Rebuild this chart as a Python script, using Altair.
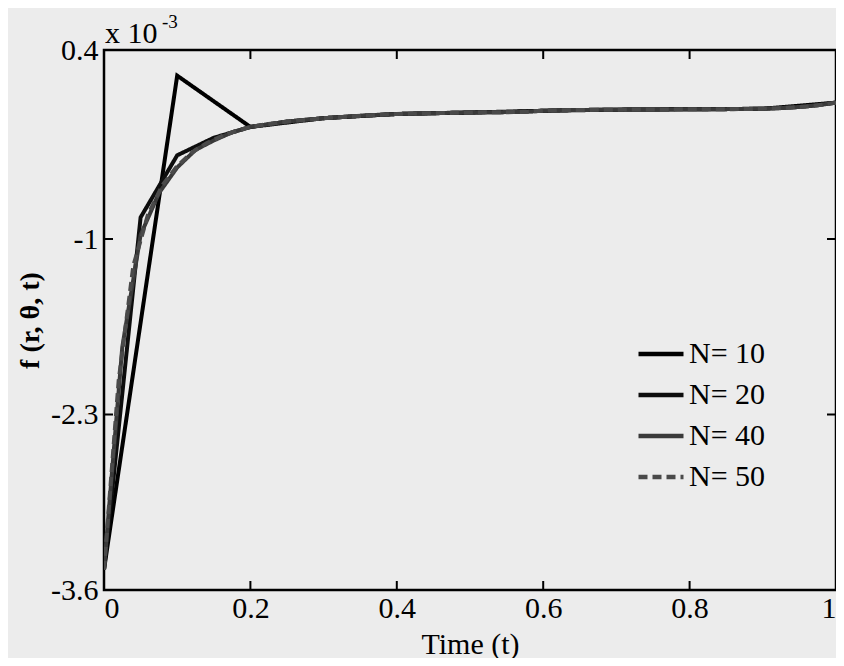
import altair as alt
import pandas as pd

# ---------------- data (values x 1e-3) ----------------
t10 = [0, 0.1, 0.2, 0.3, 0.4, 0.5, 0.6, 0.7, 0.8, 0.9, 1.0]
n10 = [-3.45, 0.21, -0.17, -0.105, -0.074, -0.063, -0.050, -0.042, -0.039, -0.035, 0.010]

t20 = [0, 0.05, 0.10, 0.15, 0.20, 0.25, 0.30, 0.35, 0.40, 0.45, 0.50,
       0.55, 0.60, 0.65, 0.70, 0.75, 0.80, 0.85, 0.90, 0.95, 1.0]
n20 = [-3.45, -0.84, -0.38, -0.25, -0.17, -0.13, -0.105, -0.088, -0.074, -0.068, -0.063,
       -0.060, -0.050, -0.044, -0.042, -0.040, -0.039, -0.038, -0.035, -0.022, 0.010]

t40 = [0, .025, .05, .075, .1, .125, .15, .175, .2, .225, .25, .275, .3, .325, .35, .375,
       .4, .425, .45, .475, .5, .525, .55, .575, .6, .625, .65, .675, .7, .725, .75, .775,
       .8, .825, .85, .875, .9, .925, .95, .975, 1.0]
n40 = [-3.45, -1.80, -0.97, -0.66, -0.47, -0.34, -0.27, -0.21, -0.17, -0.15, -0.13, -0.117,
       -0.105, -0.096, -0.088, -0.080, -0.074, -0.071, -0.068, -0.065, -0.063, -0.061, -0.060,
       -0.058, -0.050, -0.046, -0.044, -0.043, -0.042, -0.041, -0.040, -0.040, -0.039, -0.039,
       -0.038, -0.037, -0.035, -0.030, -0.022, -0.010, 0.010]

t50 = [0, .02, .04, .06, .08, .10, .12, .14, .16, .18, .20, .22, .24, .26, .28, .30, .32,
       .34, .36, .38, .40, .42, .44, .46, .48, .50, .52, .54, .56, .58, .60, .62, .64, .66,
       .68, .70, .72, .74, .76, .78, .80, .82, .84, .86, .88, .90, .92, .94, .96, .98, 1.0]
n50 = [-3.45, -2.05, -1.20, -0.82, -0.60, -0.46, -0.36, -0.29, -0.24, -0.20, -0.17, -0.152,
       -0.138, -0.126, -0.116, -0.106, -0.098, -0.091, -0.085, -0.079, -0.074, -0.071, -0.069,
       -0.067, -0.065, -0.063, -0.062, -0.061, -0.060, -0.057, -0.050, -0.046, -0.045, -0.044,
       -0.043, -0.042, -0.041, -0.041, -0.040, -0.040, -0.039, -0.039, -0.038, -0.038, -0.037,
       -0.035, -0.032, -0.026, -0.018, -0.006, 0.010]

series_names = ["N= 10", "N= 20", "N= 40", "N= 50"]
series_colors = ["#000000", "#0d0d0d", "#3a3a3a", "#4a4a4a"]
series_dash = [[1, 0], [1, 0], [1, 0], [9, 5]]

x_ticks = [0, 0.2, 0.4, 0.6, 0.8, 1]
y_ticks = [-3.6, -2.3, -1, 0.4]
x_inner_ticks = [0.2, 0.4, 0.6, 0.8]
y_inner_ticks = [-2.3, -1]

rows = []
for name, ts, vs in zip(series_names, [t10, t20, t40, t50], [n10, n20, n40, n50]):
    for i, (t, v) in enumerate(zip(ts, vs)):
        rows.append({"series": name, "t": t, "f": v, "i": i})
df = pd.DataFrame(rows)

W, H = 732, 540
FONT = "Liberation Serif"
FS = 30

xs = alt.Scale(domain=[0, 1], nice=False, zero=False)
ys = alt.Scale(domain=[-3.6, 0.4], nice=False, zero=False)

legend_kw = dict(title=None, orient="none", legendX=532, legendY=279,
                 symbolType="stroke", symbolSize=2025, symbolStrokeWidth=4.5,
                 labelFontSize=FS, labelFont=FONT, labelColor="#000",
                 labelOffset=3, rowPadding=1)

lines = alt.Chart(df).mark_line(strokeWidth=4, clip=True).encode(
    x=alt.X("t:Q", scale=xs,
            axis=alt.Axis(values=x_ticks, title="Time (t)", labelFontSize=FS, titleFontSize=FS,
                          labelFont=FONT, titleFont=FONT, titleFontWeight="normal",
                          domain=False, ticks=False, grid=False, labelPadding=3,
                          titlePadding=6, labelColor="#000", titleColor="#000",
                          labelExpr="format(datum.value, '~g')")),
    y=alt.Y("f:Q", scale=ys,
            axis=alt.Axis(values=y_ticks, title="f (r, θ, t)", labelFontSize=FS, titleFontSize=28,
                          labelFont=FONT, titleFont=FONT, titleFontWeight="bold",
                          domain=False, ticks=False, grid=False, labelPadding=6,
                          titlePadding=6, labelColor="#000", titleColor="#000",
                          labelExpr="(datum.value < 0 ? '-' : '') + format(abs(datum.value), '~g')")),
    color=alt.Color("series:N", scale=alt.Scale(domain=series_names, range=series_colors),
                    legend=alt.Legend(**legend_kw)),
    strokeDash=alt.StrokeDash("series:N", scale=alt.Scale(domain=series_names, range=series_dash),
                              legend=alt.Legend(**legend_kw)),
    order=alt.Order("i:Q"),
)

xt = pd.DataFrame({"t": x_inner_ticks})
yt = pd.DataFrame({"f": y_inner_ticks})
tick_len = 9
bottom_ticks = alt.Chart(xt).mark_rule(color="#000", strokeWidth=2).encode(
    x=alt.X("t:Q", scale=xs), y=alt.value(H), y2=alt.value(H - tick_len))
top_ticks = alt.Chart(xt).mark_rule(color="#000", strokeWidth=2).encode(
    x=alt.X("t:Q", scale=xs), y=alt.value(0), y2=alt.value(tick_len))
left_ticks = alt.Chart(yt).mark_rule(color="#000", strokeWidth=2).encode(
    y=alt.Y("f:Q", scale=ys), x=alt.value(0), x2=alt.value(tick_len))
right_ticks = alt.Chart(yt).mark_rule(color="#000", strokeWidth=2).encode(
    y=alt.Y("f:Q", scale=ys), x=alt.value(W), x2=alt.value(W - tick_len))

exp_base = alt.Chart(pd.DataFrame({"s": ["x 10"]})).mark_text(
    font=FONT, fontSize=FS, align="left", baseline="alphabetic", color="#000").encode(
    text="s:N", x=alt.value(1), y=alt.value(-7))
exp_pow = alt.Chart(pd.DataFrame({"s": ["-3"]})).mark_text(
    font=FONT, fontSize=19, align="left", baseline="alphabetic", color="#000").encode(
    text="s:N", x=alt.value(58), y=alt.value(-22))

chart = alt.layer(lines, bottom_ticks, top_ticks, left_ticks, right_ticks, exp_base, exp_pow).properties(
    width=W, height=H,
    padding={"left": 96, "top": 42, "right": 0, "bottom": 68},
    autosize=alt.AutoSizeParams(type="none"),
    background="#ececec",
).configure_view(stroke="#000", strokeWidth=2.5)

chart.save("out.html", embed_options={"renderer": "svg", "actions": False})
